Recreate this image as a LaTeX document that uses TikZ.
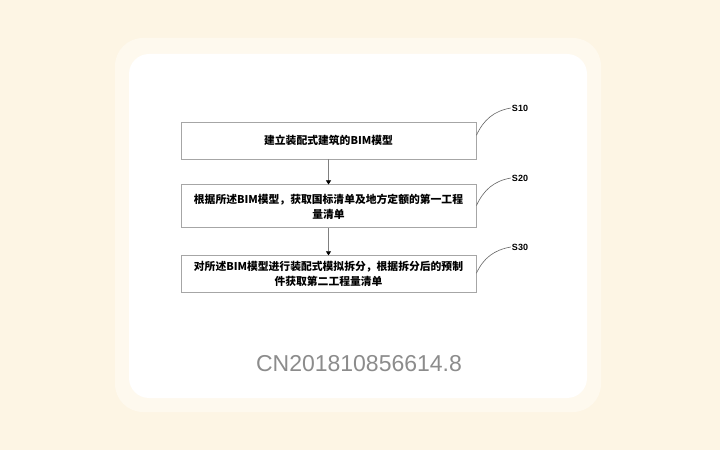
\documentclass[tikz,border=0pt]{standalone}
\usepackage{fontspec}
\setmainfont{Liberation Sans}
\newfontfamily\cjk{Noto Sans CJK SC}
\usetikzlibrary{arrows.meta, positioning, calc}
\definecolor{pagebg}{HTML}{FDF5E4}
\definecolor{cardglow}{HTML}{FEF9EE}
\definecolor{boxline}{HTML}{A6A6A6}
\definecolor{wmgray}{HTML}{8C8C8C}
\tikzset{
  stepbox/.style={
    rectangle, draw=boxline, line width=0.9pt, fill=white, text width=283pt,
    align=center, inner xsep=6pt, inner ysep=3pt, font=\cjk\bfseries\fontsize{10.8}{15}\selectfont
  },
  steplabel/.style={font=\bfseries\fontsize{9}{10}\selectfont, inner sep=1pt},
  edge/.style={-{Triangle[length=4pt,width=5pt,color=black]}, draw=gray, line width=0.6pt},
  leader/.style={draw=gray!80!black, line width=0.6pt}
}

\begin{document}
\begin{tikzpicture}[x=1pt, y=1pt]
    \useasboundingbox (0,0) rectangle (720,450);
    \fill[pagebg] (0,0) rectangle (720,450);
    \fill[cardglow, rounded corners=28pt] (115,38) rectangle (601,412);
    \fill[white, rounded corners=20pt] (129,52) rectangle (587,396);

    \node[stepbox, minimum height=37pt] (b1) at (328.5,309.5) {建立装配式建筑的BIM模型};
    \node[stepbox, minimum height=43pt, below=25pt of b1] (b2) {根据所述BIM模型，获取国标清单及地方定额的第一工程\\量清单};
    \node[stepbox, minimum height=37pt, below=27pt of b2] (b3) {对所述BIM模型进行装配式模拟拆分，根据拆分后的预制\\件获取第二工程量清单};
    \draw[edge] (b1) -- (b2);
    \draw[edge] (b2) -- (b3);

    \node[steplabel] (s1) at (520,342) {S10};
    \node[steplabel] (s2) at (520,272) {S20};
    \node[steplabel] (s3) at (520,203) {S30};
    \coordinate (c1) at ($(b1.north east)!0.36!(b1.south east)$);
    \coordinate (c2) at ($(b2.north east)!0.48!(b2.south east)$);
    \coordinate (c3) at ($(b3.north east)!0.47!(b3.south east)$);
    \draw[leader] (c1) to[out=65, in=190] (s1.west);
    \draw[leader] (c2) to[out=65, in=190] (s2.west);
    \draw[leader] (c3) to[out=65, in=190] (s3.west);

    \node[font=\fontsize{23}{23}\selectfont, text=wmgray] (wm) at (359,86) {CN201810856614.8};
\end{tikzpicture}
\end{document}
